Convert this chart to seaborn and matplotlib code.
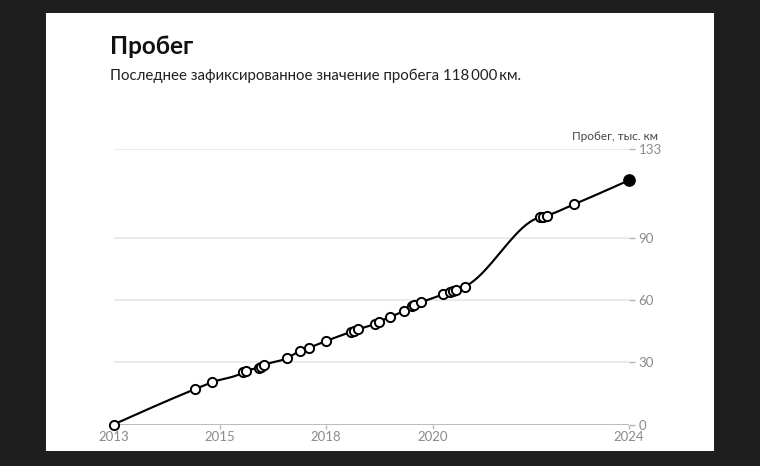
import numpy as np
import pandas as pd
import matplotlib
matplotlib.use("Agg")
import matplotlib.pyplot as plt
from matplotlib.patches import Rectangle
import seaborn as sns

# ---- data (decimal year, thousand km) ----
dates = [2013.00, 2014.74, 2015.10, 2015.77, 2015.83, 2016.10, 2016.15, 2016.22,
         2016.70, 2016.99, 2017.17, 2017.53, 2018.07, 2018.13, 2018.22, 2018.57,
         2018.67, 2018.89, 2019.20, 2019.36, 2019.42, 2019.56, 2020.04, 2020.18,
         2020.24, 2020.31, 2020.49, 2022.10, 2022.16, 2022.24, 2022.83, 2024.00]
mileage = [0.0, 17.1, 20.4, 25.2, 26.0, 27.4, 27.9, 28.7,
           32.0, 35.7, 37.1, 40.3, 44.8, 45.3, 46.0, 48.6,
           49.7, 51.8, 55.0, 57.2, 57.7, 59.0, 62.9, 64.2,
           64.6, 65.0, 66.6, 100.1, 100.4, 100.9, 106.4, 118.0]
x_tick_pos = [2013.00, 2015.27, 2017.53, 2019.81, 2024.00]
x_tick_labels = ["2013", "2015", "2018", "2020", "2024"]
y_ticks = [0, 30, 60, 90, 133]

title = "Пробег"
subtitle = "Последнее зафиксированное значение пробега 118\u2009000\u2009км."
y_label = "Пробег, тыс. км"

df = pd.DataFrame({"date": dates, "km": mileage})


def monotone_x(x, y, steps=40):
    """Monotone cubic curve through the points (same rule as d3.curveMonotoneX)."""
    x = np.asarray(x, float)
    y = np.asarray(y, float)
    n = len(x)
    h = np.diff(x)
    s = np.diff(y) / h
    t = np.zeros(n)
    for i in range(1, n - 1):
        h0, h1 = h[i - 1], h[i]
        s0, s1 = s[i - 1], s[i]
        p = (s0 * h1 + s1 * h0) / (h0 + h1)
        t[i] = (np.sign(s0) + np.sign(s1)) * min(abs(s0), abs(s1), 0.5 * abs(p))
    t[0] = (3 * s[0] - t[1]) / 2
    t[-1] = (3 * s[-1] - t[-2]) / 2
    xs, ys = [], []
    u = np.linspace(0, 1, steps)
    for i in range(n - 1):
        hh = h[i]
        h00 = 2 * u**3 - 3 * u**2 + 1
        h10 = u**3 - 2 * u**2 + u
        h01 = -2 * u**3 + 3 * u**2
        h11 = u**3 - u**2
        xs.append(x[i] + hh * u)
        ys.append(h00 * y[i] + h10 * hh * t[i] + h01 * y[i + 1] + h11 * hh * t[i + 1])
    return np.concatenate(xs), np.concatenate(ys)


sns.set_theme(style="white")
plt.rcParams["font.family"] = ["Lato", "DejaVu Sans"]

W, H = 760, 466
fig = plt.figure(figsize=(W / 100, H / 100), dpi=100)
fig.patch.set_facecolor("#1e1e1e")
fig.add_artist(Rectangle((46 / W, 1 - 451 / H), (714 - 46) / W, (451 - 13) / H,
                         transform=fig.transFigure, facecolor="white",
                         edgecolor="none", zorder=-10))

left, right = 113.5, 629
top, bottom = 149.2, 424.5
ax = fig.add_axes([left / W, 1 - bottom / H, (right - left) / W, (bottom - top) / H])
ax.set_facecolor("none")

cx, cy = monotone_x(df["date"], df["km"])
sns.lineplot(x=cx, y=cy, ax=ax, color="black", linewidth=1.55, sort=False,
             estimator=None, zorder=3)
sns.scatterplot(data=df.iloc[:-1], x="date", y="km", ax=ax, s=44,
                facecolor="white", edgecolor="black", linewidth=1.4,
                zorder=4, clip_on=False)
sns.scatterplot(data=df.iloc[-1:], x="date", y="km", ax=ax, s=66,
                color="black", edgecolor="black", linewidth=1,
                zorder=5, clip_on=False)

ax.set_xlim(2013, 2024)
ax.set_ylim(0, 133)
for sp in ax.spines.values():
    sp.set_visible(False)

ax.yaxis.tick_right()
ax.set_yticks(y_ticks)
ax.set_yticklabels([str(v) for v in y_ticks])
ax.set_xticks(x_tick_pos)
ax.set_xticklabels(x_tick_labels)
ax.tick_params(axis="y", which="both", right=True, left=False, length=4,
               width=1, color="#b5b5b5", labelcolor="#8a8a8a", labelsize=9.5, pad=3)
ax.tick_params(axis="x", which="both", bottom=True, length=3, width=1,
               color="#b5b5b5", labelcolor="#8a8a8a", labelsize=9.5, pad=2)
ax.grid(False)
for v in y_ticks[1:]:
    ax.axhline(v, color="#e6e6e6", linewidth=1.2, zorder=1)
ax.axhline(0, color="#b5b5b5", linewidth=1.3, zorder=2)
ax.set_xlabel("")
ax.set_ylabel("")

fig.text(110 / W, 1 - 46 / H, title, fontsize=17.5, fontweight="bold",
         color="#111111", va="center", ha="left")
fig.text(110 / W, 1 - 76 / H, subtitle, fontsize=10.8, color="#222222",
         va="center", ha="left")
fig.text(658 / W, 1 - 136 / H, y_label, fontsize=8.5, color="#444444",
         va="center", ha="right")

fig.savefig("out.png", dpi=100, facecolor=fig.get_facecolor())
